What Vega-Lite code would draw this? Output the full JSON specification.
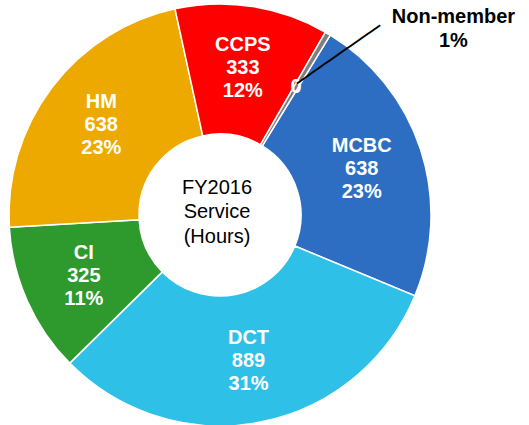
{
  "$schema": "https://vega.github.io/schema/vega-lite/v6.json",
  "width": 440,
  "height": 430,
  "autosize": {"type": "none"},
  "padding": {"left": 0, "top": 0, "right": 89, "bottom": 0},
  "background": "white",
  "config": {"view": {"stroke": null}},
  "data": {
    "values": [
      {"i": 1, "cat": "MCBC", "hours": 638, "label": "MCBC\n638\n23%"},
      {"i": 2, "cat": "DCT", "hours": 889, "label": "DCT\n889\n31%"},
      {"i": 3, "cat": "CI", "hours": 325, "label": "CI\n325\n11%"},
      {"i": 4, "cat": "HM", "hours": 638, "label": "HM\n638\n23%"},
      {"i": 5, "cat": "CCPS", "hours": 333, "label": "CCPS\n333\n12%"},
      {"i": 6, "cat": "Non-member", "hours": 12, "label": "0"}
    ]
  },
  "layer": [
    {
      "mark": {"type": "arc", "innerRadius": 81, "outerRadius": 211, "stroke": "white", "strokeWidth": 1.5},
      "encoding": {
        "theta": {"field": "hours", "type": "quantitative", "stack": true, "scale": {"range": [0.5498, 6.8330]}},
        "order": {"field": "i", "type": "quantitative"},
        "color": {
          "field": "cat", "type": "nominal", "legend": null,
          "scale": {
            "domain": ["MCBC", "DCT", "CI", "HM", "CCPS", "Non-member"],
            "range": ["#2E6EC2", "#2FC0E8", "#2E9A2E", "#EEA900", "#FF0000", "#7F7F7F"]
          }
        }
      }
    },
    {
      "mark": {"type": "text", "radius": 149, "dy": -23, "fill": "white", "font": "Liberation Sans", "fontWeight": "bold", "fontSize": 20, "lineBreak": "\n", "lineHeight": 23, "align": "center", "baseline": "middle"},
      "encoding": {
        "theta": {"field": "hours", "type": "quantitative", "stack": true},
        "order": {"field": "i", "type": "quantitative"},
        "text": {"condition": {"test": "datum.cat === 'Non-member'", "value": ""}, "field": "label", "type": "nominal"}
      }
    },
    {
      "mark": {"type": "text", "radius": 149, "fill": "white", "font": "Liberation Sans", "fontWeight": "bold", "fontSize": 20, "align": "center", "baseline": "middle"},
      "encoding": {
        "theta": {"field": "hours", "type": "quantitative", "stack": true},
        "order": {"field": "i", "type": "quantitative"},
        "text": {"condition": {"test": "datum.cat === 'Non-member'", "field": "label", "type": "nominal"}, "value": ""}
      }
    },
    {
      "mark": {"type": "text", "radius": 152, "fill": "black", "font": "DejaVu Sans", "fontSize": 21, "angle": -35, "align": "left", "baseline": "middle"},
      "encoding": {
        "theta": {"field": "hours", "type": "quantitative", "stack": true},
        "order": {"field": "i", "type": "quantitative"},
        "text": {"condition": {"test": "datum.cat === 'Non-member'", "value": "────────"}, "value": ""}
      }
    },
    {
      "mark": {"type": "text", "radius": 220, "dx": 121, "dy": -9, "fill": "black", "font": "Liberation Sans", "fontWeight": "bold", "fontSize": 20, "lineBreak": "\n", "lineHeight": 24, "align": "center", "baseline": "middle"},
      "encoding": {
        "theta": {"field": "hours", "type": "quantitative", "stack": true},
        "order": {"field": "i", "type": "quantitative"},
        "text": {"condition": {"test": "datum.cat === 'Non-member'", "value": "Non-member\n1%"}, "value": ""}
      }
    },
    {
      "data": {"values": [{"t": "FY2016\nService\n(Hours)"}]},
      "mark": {"type": "text", "fill": "black", "font": "Liberation Sans", "fontSize": 20, "lineBreak": "\n", "lineHeight": 24.5, "align": "center", "baseline": "middle", "dx": -3, "dy": -27.5},
      "encoding": {"text": {"field": "t", "type": "nominal"}}
    }
  ]
}
